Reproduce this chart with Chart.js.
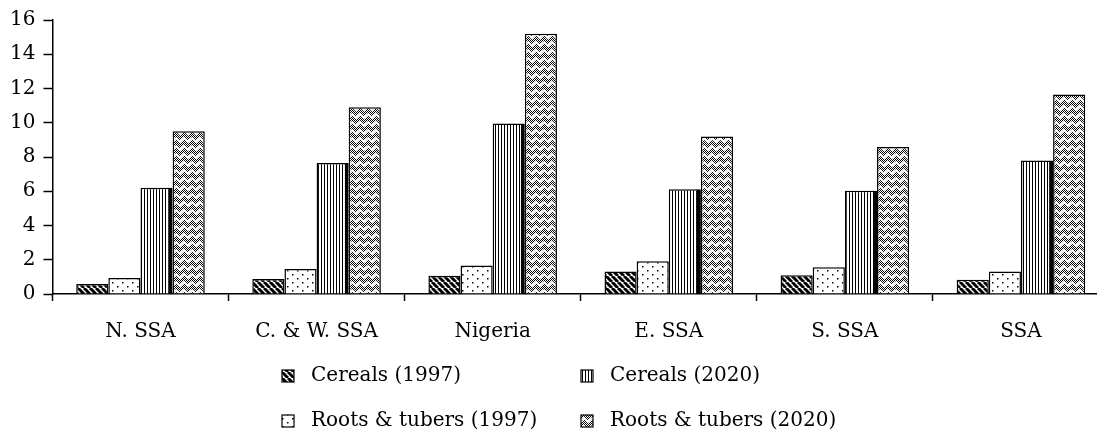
<!DOCTYPE html>
<html>
<head>
<meta charset="utf-8">
<script src="https://cdn.jsdelivr.net/npm/chart.js@4.4.1/dist/chart.umd.min.js"></script>
<style>
  html, body { margin: 0; padding: 0; background: #fff; overflow: hidden; }
  #wrap { width: 1120px; height: 438px; }
</style>
</head>
<body>
<div id="wrap"><canvas id="myChart" width="1120" height="438"></canvas></div>
<script>
// du lieu
const regions = ['N. SSA', 'C. & W. SSA', 'Nigeria', 'E. SSA', 'S. SSA', 'SSA'];
const cereals1997 = [0.58, 0.87, 1.07, 1.32, 1.1, 0.83];
const roots1997 = [0.93, 1.46, 1.66, 1.91, 1.56, 1.32];
const cereals2020 = [6.2, 7.65, 9.95, 6.12, 6.03, 7.8];
const roots2020 = [9.5, 10.9, 15.2, 9.19, 8.58, 11.65];
const yTicks = [0, 2, 4, 6, 8, 10, 12, 14, 16];

const FONT = 'DejaVu Serif';

// pattern helpers
function makeTile(w, h, draw) {
  const c = document.createElement('canvas');
  c.width = w; c.height = h;
  const g = c.getContext('2d');
  g.fillStyle = '#fff';
  g.fillRect(0, 0, w, h);
  draw(g);
  return c;
}

const diagTile = makeTile(6, 6, g => {
  g.strokeStyle = '#000';
  g.lineWidth = 3;
  for (let k = -6; k <= 6; k += 6) {
    g.beginPath();
    g.moveTo(k, 0);
    g.lineTo(k + 6, 6);
    g.stroke();
  }
});

const dotTile = makeTile(10, 8, g => {
  g.fillStyle = '#000';
  g.fillRect(2, 2, 1.5, 1.5);
  g.fillRect(7, 6, 1.5, 1.5);
});

const vertTile = makeTile(3, 4, g => {
  g.fillStyle = '#000';
  g.fillRect(0, 0, 1, 4);
});

// vai dan (herringbone) gan dung
const weaveTile = makeTile(16, 16, g => {
  g.fillStyle = '#000';
  for (let y = 0; y < 16; y++) {
    for (let x = (y % 2); x < 16; x += 2) g.fillRect(x, y, 1, 1);
  }
  g.strokeStyle = '#fff';
  g.lineWidth = 2;
  g.beginPath();
  g.moveTo(0, 2); g.lineTo(4, 6); g.lineTo(8, 2); g.lineTo(12, 6); g.lineTo(16, 2);
  g.moveTo(0, 10); g.lineTo(4, 14); g.lineTo(8, 10); g.lineTo(12, 14); g.lineTo(16, 10);
  g.stroke();
});

const ctx = document.getElementById('myChart').getContext('2d');
const pDiag = ctx.createPattern(diagTile, 'repeat');
const pDot = ctx.createPattern(dotTile, 'repeat');
const pVert = ctx.createPattern(vertTile, 'repeat');
const pWeave = ctx.createPattern(weaveTile, 'repeat');

const thin = { top: 1.5, left: 1.5, right: 1.5, bottom: 0 };

let data = {
  labels: regions,
  datasets: [{
    label: 'Cereals (1997)',
    data: cereals1997,
    backgroundColor: pDiag,
    borderColor: '#000',
    borderWidth: thin
  }, {
    label: 'Roots & tubers (1997)',
    data: roots1997,
    backgroundColor: pDot,
    borderColor: '#000',
    borderWidth: thin
  }, {
    label: 'Cereals (2020)',
    data: cereals2020,
    backgroundColor: pVert,
    borderColor: '#000',
    borderWidth: { top: 1.5, left: 1.5, right: 4, bottom: 0 }
  }, {
    label: 'Roots & tubers (2020)',
    data: roots2020,
    backgroundColor: pWeave,
    borderColor: '#000',
    borderWidth: thin
  }]
};

// legend 2 cot, ve bang tay
const legendOrder = [0, 2, 1, 3];
const gridLegend = {
  id: 'gridLegend',
  afterDraw(chart) {
    const c = chart.ctx;
    const ds = chart.data.datasets;
    const cols = [282, 581];
    const rows = [376, 421];
    c.save();
    c.font = '20px "' + FONT + '"';
    c.textBaseline = 'middle';
    c.fillStyle = '#000';
    legendOrder.forEach((idx, i) => {
      const x = cols[i % 2];
      const y = rows[Math.floor(i / 2)];
      c.fillStyle = ds[idx].backgroundColor;
      c.fillRect(x, y - 6, 12, 12);
      c.strokeStyle = '#000';
      c.lineWidth = 1.2;
      c.strokeRect(x, y - 6, 12, 12);
      c.fillStyle = '#000';
      c.fillText(ds[idx].label, x + 29, y);
    });
    c.restore();
  }
};

const config = {
  type: 'bar',
  data: data,
  options: {
    responsive: false,
    animation: false,
    layout: {
      padding: { left: 2, right: 11, top: 10, bottom: 75 }
    },
    plugins: {
      legend: { display: false },
      tooltip: { enabled: false }
    },
    datasets: {
      bar: { categoryPercentage: 0.73, barPercentage: 1 }
    },
    scales: {
      x: {
        grid: {
          drawOnChartArea: false,
          drawTicks: true,
          tickLength: 7,
          tickColor: '#000',
          tickWidth: 1.5,
          offset: true
        },
        border: { color: '#000', width: 1.5 },
        ticks: {
          color: '#000',
          padding: 19,
          maxRotation: 0,
          font: { family: FONT, size: 20 }
        }
      },
      y: {
        min: 0,
        max: 16,
        afterBuildTicks: axis => { axis.ticks = yTicks.map(v => ({ value: v })); },
        grid: {
          drawOnChartArea: false,
          drawTicks: true,
          tickLength: 9,
          tickColor: '#000',
          tickWidth: 1.5
        },
        border: { color: '#000', width: 1.5 },
        ticks: {
          color: '#000',
          padding: 8,
          font: { family: FONT, size: 20 }
        }
      }
    }
  },
  plugins: [gridLegend]
};

let myChart = new Chart(ctx, config);
</script>
</body>
</html>
